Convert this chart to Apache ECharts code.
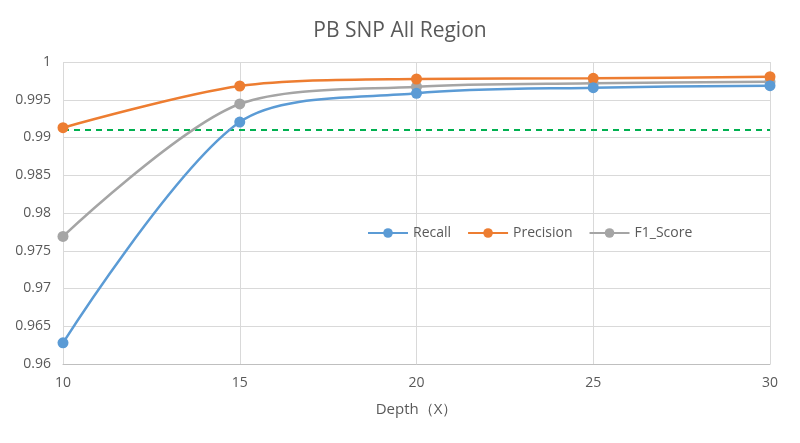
<!DOCTYPE html>
<html><head><meta charset="utf-8">
<script src="https://cdn.jsdelivr.net/npm/echarts@6/dist/echarts.min.js"></script>
<style>html,body{margin:0;padding:0;background:#fff}#c{width:800px;height:443px}</style>
</head><body><div id="c"></div>
<script>
const depth = [10, 15, 20, 25, 30];
const recall = [0.9628, 0.99205, 0.99585, 0.9966, 0.99686];
const precision = [0.9913, 0.99682, 0.99775, 0.99784, 0.99806];
const f1 = [0.9769, 0.99444, 0.99673, 0.99718, 0.9974];
const threshold = [0.991, 0.991];
const thresholdX = [10, 30];
const names = ['Recall', 'Precision', 'F1_Score'];
const colors = ['#5B9BD5', '#ED7D31', '#A5A5A5'];
const font = "'Open Sans', 'Liberation Sans', sans-serif";
const pairs = (xs, a) => xs.map((d, i) => [d, a[i]]);
const chart = echarts.init(document.getElementById('c'));
const mk = (name, data, color, z) => ({
  name, type: 'line', data: pairs(depth, data), smooth: 0.3, symbol: 'circle', symbolSize: 11,
  lineStyle: { width: 2.5, color }, itemStyle: { color }, z
});
chart.setOption({
  animation: false,
  title: { text: 'PB SNP All Region', left: 'center', top: 16,
    textStyle: { fontFamily: font, fontSize: 21, fontWeight: 'normal', color: '#595959' } },
  legend: { data: names, left: 362, top: 221, itemWidth: 40, itemHeight: 12, itemGap: 16,
    textStyle: { fontFamily: font, fontSize: 14, color: '#595959' } },
  grid: { left: 63, right: 30, top: 62, bottom: 79 },
  xAxis: { type: 'value', min: 10, max: 30, interval: 5,
    name: 'Depth（X）', nameLocation: 'middle', nameGap: 38,
    nameTextStyle: { fontFamily: font, fontSize: 15, color: '#595959' },
    axisLine: { show: true, lineStyle: { color: '#BFBFBF' } }, axisTick: { show: false },
    axisLabel: { fontFamily: font, fontSize: 14, color: '#595959', margin: 12 },
    splitLine: { show: true, lineStyle: { color: '#D9D9D9' } } },
  yAxis: { type: 'value', min: 0.96, max: 1, interval: 0.005,
    axisLine: { show: false }, axisTick: { show: false },
    axisLabel: { fontFamily: font, fontSize: 14, color: '#595959', margin: 12,
      formatter: v => String(parseFloat(v.toFixed(3))) },
    splitLine: { lineStyle: { color: '#D9D9D9' } } },
  series: [
    { name: 'threshold', type: 'line', data: pairs(thresholdX, threshold), symbol: 'none',
      lineStyle: { color: '#00B050', type: [6, 5], width: 2 }, z: 2, silent: true },
    mk(names[0], recall, colors[0], 5),
    mk(names[1], precision, colors[1], 4),
    mk(names[2], f1, colors[2], 3)
  ]
});
</script></body></html>
